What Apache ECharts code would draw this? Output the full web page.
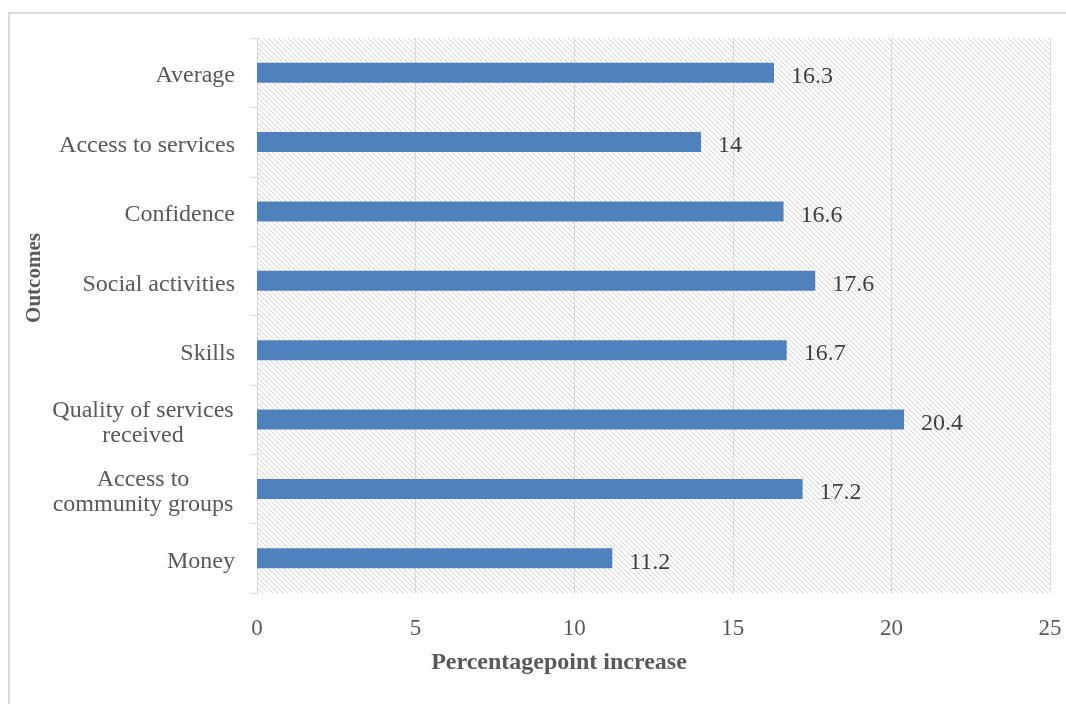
<!DOCTYPE html>
<html>
<head>
<meta charset="utf-8">
<script src="https://cdn.jsdelivr.net/npm/echarts@6/dist/echarts.min.js"></script>
<style>
html,body{margin:0;padding:0;background:#fff;}
#main{width:1066px;height:704px;}
</style>
</head>
<body>
<div id="main"></div>
<script>
const categories = ['Average','Access to services','Confidence','Social activities','Skills','Quality of services\nreceived','Access to\ncommunity groups','Money'];
const values = [16.3, 14, 16.6, 17.6, 16.7, 20.4, 17.2, 11.2];
const xTicks = [0, 5, 10, 15, 20, 25];

function hatch() {
  const c = document.createElement('canvas');
  const s = 5;
  c.width = s; c.height = s;
  const ctx = c.getContext('2d');
  ctx.fillStyle = '#ffffff';
  ctx.fillRect(0,0,s,s);
  ctx.strokeStyle = '#d4d4d4';
  ctx.lineWidth = 1;
  ctx.beginPath();
  ctx.moveTo(-1,-1); ctx.lineTo(s+1,s+1);
  ctx.moveTo(-1,s-1); ctx.lineTo(1,s+1);
  ctx.moveTo(s-1,-1); ctx.lineTo(s+1,1);
  ctx.stroke();
  return c;
}

const font = 'Liberation Serif';
const chart = echarts.init(document.getElementById('main'));
chart.setOption({
  animation: false,
  grid: {left: 257, right: 16, top: 38, bottom: 111, show: true,
    backgroundColor: {image: hatch(), repeat: 'repeat'}, borderWidth: 0},
  xAxis: {
    type: 'value', min: xTicks[0], max: xTicks[xTicks.length-1], interval: 5,
    axisLine: {show: false}, axisTick: {show: false},
    axisLabel: {color: '#595959', fontFamily: font, fontSize: 23, margin: 24},
    splitLine: {show: true, lineStyle: {color: '#d9d9d9', width: 1}}
  },
  yAxis: {
    type: 'category', data: categories, inverse: true,
    axisLine: {show: true, lineStyle: {color: '#d9d9d9'}},
    axisTick: {show: true, length: 7, lineStyle: {color: '#d9d9d9'}},
    axisLabel: {color: '#595959', fontFamily: font, fontSize: 24, margin: 22, lineHeight: 25,
      padding: [7, 0, 0, 0],
      formatter: function (v) {
        if (v.indexOf('\n') < 0) return v;
        return v.split('\n').map(function (s) { return '{c|' + s + '}'; }).join('\n');
      },
      rich: {c: {width: 184, align: 'center', fontFamily: font, fontSize: 24, lineHeight: 25, color: '#595959'}}
    },
    splitLine: {show: false}
  },
  series: [{
    type: 'bar', data: values, barWidth: 20,
    itemStyle: {color: '#4f81bd'},
    label: {show: true, position: 'right', distance: 17, color: '#404040', fontFamily: font, fontSize: 24,
      offset: [0, 4]}
  }],
  graphic: [
    {type: 'rect', shape: {x: 9, y: 13, width: 1100, height: 800}, style: {fill: 'none', stroke: '#d9d9d9', lineWidth: 2}, silent: true},
    {type: 'text', x: 559, y: 663, style: {text: 'Percentagepoint increase', font: 'bold 24px "Liberation Serif"', fill: '#595959', align: 'center', verticalAlign: 'middle'}},
    {type: 'text', x: 35, y: 278, rotation: Math.PI/2, style: {text: 'Outcomes', font: 'bold 21px "Liberation Serif"', fill: '#595959', align: 'center', verticalAlign: 'middle'}}
  ]
});
</script>
</body>
</html>
